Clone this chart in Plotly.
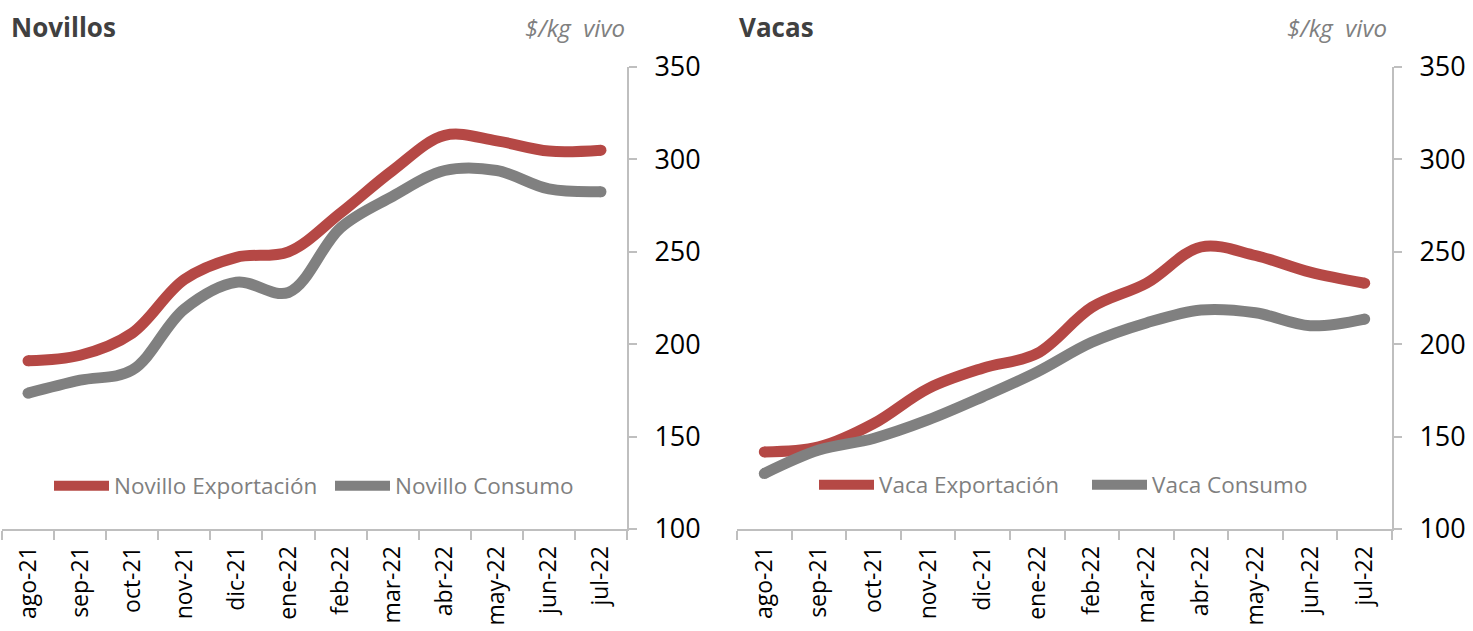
import plotly.graph_objects as go

meses = ["ago-21", "sep-21", "oct-21", "nov-21", "dic-21", "ene-22",
         "feb-22", "mar-22", "abr-22", "may-22", "jun-22", "jul-22"]

novillo_exportacion = [191, 194, 206, 235, 247, 250, 271, 294, 313, 310, 304.5, 305]
novillo_consumo = [173.5, 180.5, 186, 219, 233.5, 228, 263, 280, 294, 294, 284, 282.5]

vaca_exportacion = [141.7, 144.4, 157, 176, 187, 195, 220, 233, 252.6, 248, 239, 233]
vaca_consumo = [130, 142.7, 149, 159, 171.5, 185, 201, 211.5, 218.5, 217, 210, 213.6]

W, H = 1473, 631
RED = "#B54845"
GRAY = "#808080"
AXC = "#BFBFBF"
FONT = "Open Sans"
LW = 11


def px(x):
    return x / W


def py(y):
    return 1 - y / H


fig = go.Figure()

panels = [
    ("x", "y", "legend", novillo_exportacion, novillo_consumo,
     "Novillo Exportación", "Novillo Consumo"),
    ("x2", "y2", "legend2", vaca_exportacion, vaca_consumo,
     "Vaca Exportación", "Vaca Consumo"),
]

for xa, ya, lg, exp_vals, con_vals, exp_name, con_name in panels:
    for vals, name, col in [(exp_vals, exp_name, RED), (con_vals, con_name, GRAY)]:
        fig.add_trace(go.Scatter(
            x=meses, y=vals, name=name, mode="lines",
            line=dict(color=col, width=LW, shape="spline", smoothing=1.0),
            xaxis=xa, yaxis=ya, legend=lg, hoverinfo="x+y+name"))
    for vals, col in [(exp_vals, RED), (con_vals, GRAY)]:
        fig.add_trace(go.Scatter(
            x=[meses[0], meses[-1]], y=[vals[0], vals[-1]], mode="markers",
            marker=dict(color=col, size=LW), showlegend=False,
            xaxis=xa, yaxis=ya, hoverinfo="skip"))

ydom = [py(529), py(67)]
xdom1 = [px(2), px(627)]
xdom2 = [px(737), px(1392)]

xcommon = dict(type="category", range=[-0.5, len(meses) - 0.5], showline=True,
               linecolor=AXC, linewidth=2, ticks="outside", tickson="boundaries",
               ticklen=9, tickcolor=AXC, tickwidth=2, tickangle=-90,
               showgrid=False, zeroline=False, automargin=False,
               ticklabelstandoff=6,
               tickfont=dict(family=FONT, size=23, color="#000000"))
ycommon = dict(range=[100, 350], dtick=50, tick0=100, side="right", showline=True,
               linecolor=AXC, linewidth=2, ticks="outside", ticklen=8,
               tickcolor=AXC, tickwidth=2, showgrid=False, zeroline=False,
               ticklabelstandoff=12, automargin=False,
               tickfont=dict(family=FONT, size=27, color="#000000"))

legcommon = dict(orientation="h", bgcolor="rgba(0,0,0,0)", itemwidth=55,
                 font=dict(family=FONT, size=22.5, color="#7F7F7F"),
                 yanchor="middle", xanchor="left", tracegroupgap=0,
                 entrywidthmode="pixels",
                 itemclick=False, itemdoubleclick=False)

fig.update_layout(
    width=W, height=H,
    margin=dict(l=0, r=0, t=0, b=0, autoexpand=False),
    paper_bgcolor="white", plot_bgcolor="white",
    xaxis=dict(domain=xdom1, anchor="y", **xcommon),
    yaxis=dict(domain=ydom, anchor="x", **ycommon),
    xaxis2=dict(domain=xdom2, anchor="y2", **xcommon),
    yaxis2=dict(domain=ydom, anchor="x2", **ycommon),
    legend=dict(x=px(49), y=py(486), entrywidth=211, **legcommon),
    legend2=dict(x=px(814), y=py(485), entrywidth=203, **legcommon),
    annotations=[
        dict(text="<b>Novillos</b>", x=px(9), y=py(27), xref="paper", yref="paper",
             xanchor="left", yanchor="middle", showarrow=False,
             font=dict(family=FONT, size=26, color="#404040")),
        dict(text="<i>$/kg  vivo</i>", x=px(627), y=py(28), xref="paper", yref="paper",
             xanchor="right", yanchor="middle", showarrow=False,
             font=dict(family=FONT, size=24, color="#808080")),
        dict(text="<b>Vacas</b>", x=px(737), y=py(27), xref="paper", yref="paper",
             xanchor="left", yanchor="middle", showarrow=False,
             font=dict(family=FONT, size=26, color="#404040")),
        dict(text="<i>$/kg  vivo</i>", x=px(1389), y=py(28), xref="paper", yref="paper",
             xanchor="right", yanchor="middle", showarrow=False,
             font=dict(family=FONT, size=24, color="#808080")),
    ],
    showlegend=True,
)

fig.write_html("out.html", config={"displayModeBar": False},
               post_script="document.body.style.margin='0';document.body.style.overflow='hidden';")
